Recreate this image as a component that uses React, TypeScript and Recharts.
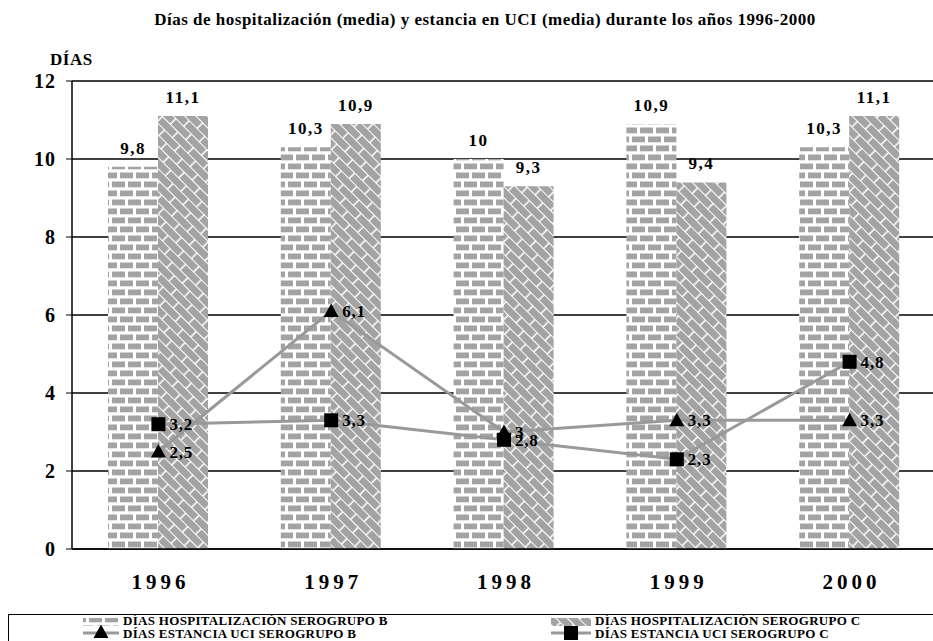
import React from "react";
import {
  ComposedChart,
  Bar,
  Line,
  XAxis,
  YAxis,
  CartesianGrid,
  LabelList,
} from "recharts";

const years = ["1996", "1997", "1998", "1999", "2000"];
const hospB = [9.8, 10.3, 10, 10.9, 10.3];
const hospC = [11.1, 10.9, 9.3, 9.4, 11.1];
const uciB = [2.5, 6.1, 3, 3.3, 3.3];
const uciC = [3.2, 3.3, 2.8, 2.3, 4.8];
const yTicks = [0, 2, 4, 6, 8, 10, 12];

const data = years.map((year, i) => ({
  year,
  hospB: hospB[i],
  hospC: hospC[i],
  uciB: uciB[i],
  uciC: uciC[i],
}));

// drop the default body margin so the chart sits at the page corner
if (typeof document !== "undefined") {
  document.body.style.margin = "0";
  document.body.style.overflow = "hidden";
}

const FONT = "'Liberation Serif', 'Times New Roman', serif";
const GRAY = "#a3a3a3";
const LINE_GRAY = "#999999";

const fmt = (v: number | string) => String(v).replace(".", ",");

// patterns shared by bars and legend swatches
function Patterns() {
  return (
    <svg width={0} height={0} style={{ position: "absolute" }}>
      <defs>
        <pattern id="brickB" width={16} height={18} patternUnits="userSpaceOnUse">
          <rect width={16} height={18} fill="#ffffff" />
          <rect x={0} y={1.5} width={13} height={5.8} fill={GRAY} />
          <rect x={-8} y={10.5} width={13} height={5.8} fill={GRAY} />
          <rect x={8} y={10.5} width={13} height={5.8} fill={GRAY} />
        </pattern>
        <pattern
          id="weaveC"
          width={22}
          height={16}
          patternUnits="userSpaceOnUse"
          patternTransform="rotate(45)"
        >
          <rect width={22} height={16} fill="#ffffff" />
          <rect x={0} y={0} width={20.5} height={7} fill={GRAY} />
          <rect x={-11} y={8} width={20.5} height={7} fill={GRAY} />
          <rect x={11} y={8} width={20.5} height={7} fill={GRAY} />
        </pattern>
      </defs>
    </svg>
  );
}

const Triangle = ({ cx, cy }: any) => (
  <path d={`M${cx},${cy - 7.5} L${cx + 7.5},${cy + 6} L${cx - 7.5},${cy + 6} Z`} fill="#000" />
);

const Square = ({ cx, cy }: any) => (
  <rect x={cx - 7} y={cy - 7} width={14} height={14} fill="#000" />
);

const PointLabel = (props: any) => {
  const { x, y, value } = props;
  return (
    <text
      x={x + 11}
      y={y + 6}
      fontFamily={FONT}
      fontWeight="bold"
      fontSize={17}
      letterSpacing={0.8}
      fill="#000"
    >
      {fmt(value)}
    </text>
  );
};

const BarLabel = (props: any) => {
  const { x, y, width, value } = props;
  return (
    <text
      x={x + width / 2}
      y={y - 13}
      textAnchor="middle"
      fontFamily={FONT}
      fontWeight="bold"
      fontSize={17}
      letterSpacing={1.5}
      fill="#000"
    >
      {fmt(value)}
    </text>
  );
};

const YTick = (props: any) => {
  const { x, y, payload } = props;
  return (
    <text
      x={x}
      y={y + 7}
      textAnchor="end"
      fontFamily={FONT}
      fontWeight="bold"
      fontSize={20}
      letterSpacing={1}
      fill="#000"
    >
      {payload.value}
    </text>
  );
};

const XTick = (props: any) => {
  const { x, y, payload } = props;
  return (
    <text
      x={x + 2}
      y={y + 32}
      textAnchor="middle"
      fontFamily={FONT}
      fontWeight="bold"
      fontSize={21}
      letterSpacing={4}
      fill="#000"
    >
      {payload.value}
    </text>
  );
};

const legendText: React.CSSProperties = {
  fontFamily: FONT,
  fontWeight: "bold",
  fontSize: 13,
  lineHeight: "12px",
  letterSpacing: 0.3,
  color: "#000",
  whiteSpace: "nowrap",
  position: "absolute",
};

function Legend() {
  return (
    <div
      style={{
        position: "absolute",
        left: 8,
        top: 614,
        width: 940,
        height: 40,
        border: "1px solid #000",
        background: "#fff",
      }}
    >
      <svg width={940} height={40} style={{ position: "absolute", left: 0, top: 0 }}>
        <rect x={74} y={3} width={36} height={8} fill="url(#brickB)" />
        <line x1={74} x2={110} y1={18} y2={18} stroke={LINE_GRAY} strokeWidth={3} />
        <Triangle cx={92} cy={17} />
        <rect x={542} y={3} width={40} height={8} fill="url(#weaveC)" />
        <line x1={542} x2={582} y1={18} y2={18} stroke={LINE_GRAY} strokeWidth={3} />
        <Square cx={562} cy={18} />
      </svg>
      <span style={{ ...legendText, left: 114, top: 0 }}>DÍAS HOSPITALIZACIÓN SEROGRUPO B</span>
      <span style={{ ...legendText, left: 114, top: 13 }}>DÍAS ESTANCIA UCI SEROGRUPO B</span>
      <span style={{ ...legendText, left: 586, top: 0 }}>DÍAS HOSPITALIZACIÓN SEROGRUPO C</span>
      <span style={{ ...legendText, left: 586, top: 13 }}>DÍAS ESTANCIA UCI SEROGRUPO C</span>
    </div>
  );
}

export default function App() {
  return (
    <div
      style={{
        position: "relative",
        width: 933,
        height: 641,
        overflow: "hidden",
        background: "#fff",
      }}
    >
      <Patterns />
      <div
        style={{
          position: "absolute",
          left: 0,
          width: 970,
          top: 10,
          textAlign: "center",
          fontFamily: FONT,
          fontWeight: "bold",
          fontSize: 17,
          letterSpacing: 0.5,
        }}
      >
        Días de hospitalización (media) y estancia en UCI (media) durante los años 1996-2000
      </div>
      <div
        style={{
          position: "absolute",
          left: 50,
          top: 50,
          fontFamily: FONT,
          fontWeight: "bold",
          fontSize: 17,
          letterSpacing: 0.5,
        }}
      >
        DÍAS
      </div>
      <div style={{ position: "absolute", left: 0, top: 0 }}>
        <ComposedChart
          width={940}
          height={641}
          data={data}
          margin={{ top: 81, right: 4, bottom: 52, left: 8 }}
          barGap={0}
        >
          <CartesianGrid vertical={false} stroke="#000" strokeWidth={1.3} />
          <XAxis
            dataKey="year"
            axisLine={{ stroke: "#000", strokeWidth: 1.5 }}
            tickLine={false}
            height={40}
            tick={<XTick />}
          />
          <YAxis
            domain={[0, 12]}
            ticks={yTicks}
            width={64}
            axisLine={{ stroke: "#000", strokeWidth: 1.5 }}
            tickLine={{ stroke: "#000" }}
            tickSize={6}
            tickMargin={10}
            tick={<YTick />}
          />
          <Bar dataKey="hospB" fill="url(#brickB)" barSize={50} isAnimationActive={false}>
            <LabelList dataKey="hospB" content={<BarLabel />} />
          </Bar>
          <Bar dataKey="hospC" fill="url(#weaveC)" barSize={50} isAnimationActive={false}>
            <LabelList dataKey="hospC" content={<BarLabel />} />
          </Bar>
          <Line
            dataKey="uciB"
            stroke={LINE_GRAY}
            strokeWidth={3}
            dot={(p: any) => <Triangle key={`t${p.index}`} {...p} />}
            activeDot={false}
            isAnimationActive={false}
          >
            <LabelList dataKey="uciB" content={<PointLabel />} />
          </Line>
          <Line
            dataKey="uciC"
            stroke={LINE_GRAY}
            strokeWidth={3}
            dot={(p: any) => <Square key={`s${p.index}`} {...p} />}
            activeDot={false}
            isAnimationActive={false}
          >
            <LabelList dataKey="uciC" content={<PointLabel />} />
          </Line>
        </ComposedChart>
      </div>
      <Legend />
    </div>
  );
}
